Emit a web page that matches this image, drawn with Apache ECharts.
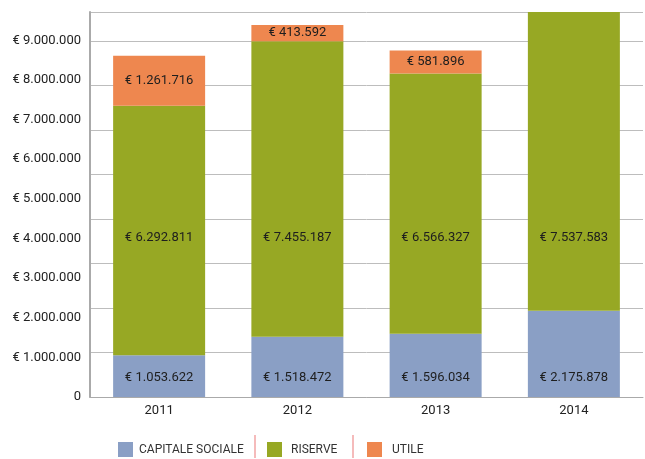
<!doctype html>
<html>
	<head>
		<meta charset="UTF-8">
		<title></title>
		<style type="text/css">
			body{
				margin: 0px;
				padding: 0px;
				background: #fff;
			}
			#chart{
				width: 645px;
				height: 459px;
			}
		</style>
	</head>
	<body>
		<div id="chart"></div>
		<script src="https://cdn.jsdelivr.net/npm/echarts@6/dist/echarts.min.js"></script>
		<script type="text/javascript">
			var anni = ['2011', '2012', '2013', '2014'];
			var capitale = [1053622, 1518472, 1596034, 2175878];
			var riserve = [6292811, 7455187, 6566327, 7537583];
			var utile = [1261716, 413592, 581896, null];
			var nomi = ['CAPITALE SOCIALE', 'RISERVE', 'UTILE'];
			var colori = ['#8a9fc5', '#97a824', '#ee874f'];

			var font = 'Roboto';

			// numeri con il punto come separatore delle migliaia
			function fmt(v) {
				return String(v).replace(/\B(?=(\d{3})+(?!\d))/g, '.');
			}

			var chart = echarts.init(document.getElementById('chart'));

			var labelStyle = {
				show: true,
				color: '#1e1e1e',
				fontFamily: font,
				fontSize: 13,
				align: 'center',
				verticalAlign: 'middle',
				formatter: function (p) {
					return '€ ' + fmt(p.value);
				}
			};

			// una legenda per voce, così ogni voce sta al suo posto
			var legendLeft = [118, 267, 367];
			var legendPad = [1, 4, 5];
			var legende = nomi.map(function (n, i) {
				return {
					left: legendLeft[i],
					top: 442,
					padding: 0,
					itemWidth: 15,
					itemHeight: 15,
					icon: 'rect',
					textStyle: {
						color: '#333',
						fontFamily: font,
						fontSize: 12,
						padding: [0, 0, 0, legendPad[i]]
					},
					data: [n]
				};
			});

			var option = {
				color: colori,
				animation: false,
				grid: {
					left: 90,
					right: 2,
					top: 12,
					bottom: 62
				},
				legend: legende,
				xAxis: {
					type: 'category',
					data: anni,
					axisTick: {show: false},
					axisLine: {lineStyle: {color: '#aaa', width: 1}},
					axisLabel: {color: '#222', fontFamily: font, fontSize: 13, margin: 7}
				},
				yAxis: [{
					type: 'value',
					min: 0,
					max: 9713461,
					interval: 1000000,
					splitLine: {show: false},
					axisTick: {show: false},
					axisLine: {show: true, lineStyle: {color: '#aaa', width: 2}},
					axisLabel: {
						color: '#222',
						fontFamily: font,
						fontSize: 13,
						margin: 9,
						showMaxLabel: false,
						formatter: function (v) {
							return v === 0 ? '0' : '€ ' + fmt(v);
						}
					}
				}, {
					// griglia di sfondo (nell'originale non coincide con le etichette)
					type: 'value',
					position: 'left',
					min: 0,
					max: 8.65,
					interval: 1,
					axisLine: {show: false},
					axisTick: {show: false},
					axisLabel: {show: false},
					splitLine: {show: true, lineStyle: {color: '#bdbdbd', width: 1}}
				}],
				series: [{
					name: nomi[0],
					type: 'bar',
					stack: 'tot',
					barWidth: 92,
					label: labelStyle,
					data: capitale
				}, {
					name: nomi[1],
					type: 'bar',
					stack: 'tot',
					barWidth: 92,
					label: labelStyle,
					data: riserve
				}, {
					name: nomi[2],
					type: 'bar',
					stack: 'tot',
					barWidth: 92,
					label: labelStyle,
					data: utile
				}],
				graphic: [
					{type: 'line', shape: {x1: 255, y1: 435, x2: 255, y2: 458}, style: {stroke: '#f2a5a5', lineWidth: 1.5}},
					{type: 'line', shape: {x1: 353, y1: 435, x2: 353, y2: 458}, style: {stroke: '#f2a5a5', lineWidth: 1.5}}
				]
			};

			chart.setOption(option);

			// le etichette di capitale e riserve stanno a un'altezza fissa
			function fixedLabel(y, top) {
				var py = chart.convertToPixel({yAxisIndex: 0}, top);
				return {position: ['50%', y - py]};
			}

			chart.setOption({
				series: [{
					data: capitale.map(function (v) {
						return {value: v, label: fixedLabel(378, v)};
					})
				}, {
					data: riserve.map(function (v, i) {
						return {value: v, label: fixedLabel(238, capitale[i] + v)};
					})
				}, {
					label: {position: 'inside'}
				}]
			});
		</script>
	</body>
</html>
